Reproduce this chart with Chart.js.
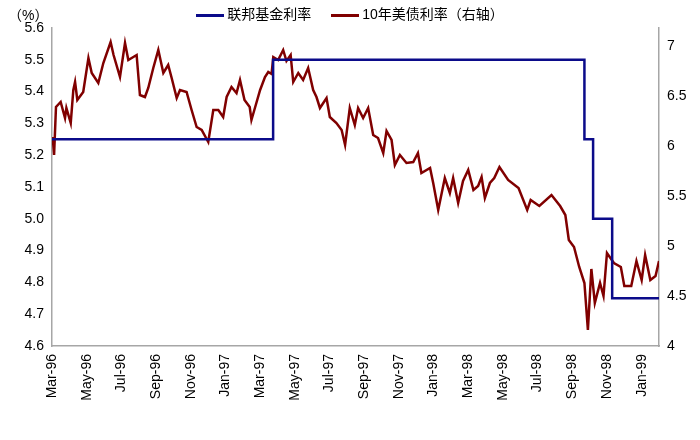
<!DOCTYPE html>
<html>
<head>
<meta charset="utf-8">
<script src="https://cdn.jsdelivr.net/npm/chart.js@4"></script>
<style>
  body { margin: 0; background: #fff; font-family: Arial, "Liberation Sans", "Noto Sans CJK SC", sans-serif; }
  #wrap { position: relative; width: 700px; height: 440px; }
  #unit { position: absolute; left: 8px; top: 4px; font-size: 14px; color: #000; }
  #legend { position: absolute; left: 0; width: 700px; top: 3px; text-align: center; font-size: 14px; color: #000; }
  #legend span.item { margin: 0 8px; }
  #legend i { display: inline-block; width: 28px; height: 3px; vertical-align: middle; margin-right: 3px; }
</style>
</head>
<body>
<div id="wrap">
  <canvas id="chart" width="700" height="440"></canvas>
  <div id="unit">（%）</div>
  <div id="legend">
    <span class="item"><i style="background:#0b0b8a"></i>联邦基金利率</span>
    <span class="item"><i style="background:#800000"></i>10年美债利率（右轴）</span>
  </div>
</div>
<script>
// month index 0 = Mar-96
const monthLabels = ["Mar-96","May-96","Jul-96","Sep-96","Nov-96","Jan-97","Mar-97","May-97","Jul-97",
  "Sep-97","Nov-97","Jan-98","Mar-98","May-98","Jul-98","Sep-98","Nov-98","Jan-99"];

const fedMonths = [0, 12.75, 30.7, 31.2, 32.3, 35];
const fedRates  = [5.25, 5.5, 5.25, 5.0, 4.75, 4.75];

const yieldMonths = [0.04,0.12,0.23,0.5,0.75,0.83,1.08,1.23,1.33,1.46,1.8,2.1,2.29,2.67,2.96,3.38,3.55,3.92,4.21,4.4,
  4.88,5.07,5.36,5.55,5.84,6.13,6.42,6.7,6.9,7.19,7.38,7.76,8.05,8.34,8.63,9.01,9.3,9.59,9.87,10.07,
  10.35,10.64,10.84,11.1,11.4,11.5,11.7,12,12.28,12.47,12.66,12.76,13.04,13.33,13.52,13.76,13.91,14.2,14.48,14.77,
  15.06,15.25,15.45,15.83,16.02,16.4,16.7,16.9,17.17,17.46,17.65,17.94,18.23,18.52,18.8,19.1,19.29,19.58,19.77,20.06,
  20.44,20.83,21.1,21.3,21.8,21.98,22.27,22.65,22.94,23.13,23.42,23.7,24,24.3,24.57,24.77,24.96,25.25,25.5,25.8,
  26.3,26.9,27.4,27.6,28.1,28.8,29.3,29.6,29.8,30.1,30.4,30.7,30.9,31.1,31.3,31.6,31.8,32.0,32.4,32.8,
  33.0,33.4,33.7,34.0,34.2,34.5,34.8,35.0];
const yieldValues = [6.09,5.91,6.39,6.44,6.28,6.38,6.23,6.56,6.64,6.46,6.54,6.88,6.73,6.63,6.83,7.04,6.91,6.69,7.03,6.86,
  6.91,6.51,6.49,6.58,6.78,6.96,6.73,6.81,6.68,6.48,6.56,6.54,6.36,6.19,6.16,6.04,6.36,6.36,6.29,6.49,
  6.59,6.53,6.66,6.46,6.39,6.26,6.38,6.56,6.69,6.74,6.72,6.89,6.86,6.96,6.85,6.91,6.64,6.73,6.66,6.78,
  6.56,6.49,6.38,6.48,6.29,6.23,6.16,6.01,6.38,6.21,6.38,6.28,6.38,6.11,6.08,5.93,6.15,6.06,5.81,5.91,
  5.83,5.84,5.93,5.73,5.78,5.63,5.36,5.68,5.53,5.68,5.43,5.65,5.76,5.56,5.6,5.69,5.48,5.63,5.68,5.79,
  5.66,5.58,5.36,5.46,5.40,5.51,5.40,5.31,5.06,4.99,4.79,4.63,4.16,4.77,4.43,4.63,4.5,4.93,4.83,4.79,
  4.6,4.6,4.85,4.66,4.91,4.66,4.70,4.85];

const toXY = (xs, ys) => xs.map((x, i) => ({ x: x, y: ys[i] }));
const axisColor = "#a6a6a6";
const tickFont = { family: "Arial, 'Liberation Sans'", size: 14 };

new Chart(document.getElementById("chart"), {
  type: "line",
  data: {
    datasets: [
      {
        label: "联邦基金利率",
        data: toXY(fedMonths, fedRates),
        borderColor: "#0b0b8a",
        borderWidth: 2.5,
        stepped: "before",
        pointRadius: 0,
        yAxisID: "y",
      },
      {
        label: "10年美债利率（右轴）",
        data: toXY(yieldMonths, yieldValues),
        borderColor: "#800000",
        borderWidth: 2.5,
        pointRadius: 0,
        tension: 0,
        yAxisID: "y2",
      },
    ],
  },
  options: {
    responsive: false,
    animation: false,
    layout: { padding: { top: 28, right: 0, left: 0, bottom: 0 } },
    plugins: { legend: { display: false }, tooltip: { enabled: false } },
    scales: {
      x: {
        type: "linear",
        min: 0,
        max: 35,
        afterBuildTicks: (s) => { s.ticks = monthLabels.map((_, i) => ({ value: i * 2 })); },
        afterFit: (s) => { s.height = 94; },
        ticks: {
          color: "#000",
          font: tickFont,
          minRotation: 90,
          maxRotation: 90,
          autoSkip: false,
          callback: (v) => monthLabels[v / 2],
        },
        grid: { display: false, drawTicks: true, tickLength: 5, tickColor: axisColor },
        border: { color: axisColor, width: 1.5 },
      },
      y: {
        position: "left",
        min: 4.6,
        max: 5.6,
        afterFit: (s) => { s.width = 52; },
        ticks: { stepSize: 0.1, color: "#000", font: tickFont, callback: (v) => v.toFixed(1) },
        grid: { display: false, tickLength: 5, tickColor: axisColor },
        border: { color: axisColor, width: 1.5 },
      },
      y2: {
        position: "right",
        min: 4,
        max: 7.18,
        afterBuildTicks: (s) => { s.ticks = [4, 4.5, 5, 5.5, 6, 6.5, 7].map((v) => ({ value: v })); },
        afterFit: (s) => { s.width = 41; },
        ticks: { color: "#000", font: tickFont, callback: (v) => String(v) },
        grid: { display: false, tickLength: 5, tickColor: axisColor },
        border: { color: axisColor, width: 1.5 },
      },
    },
  },
});
</script>
</body>
</html>
